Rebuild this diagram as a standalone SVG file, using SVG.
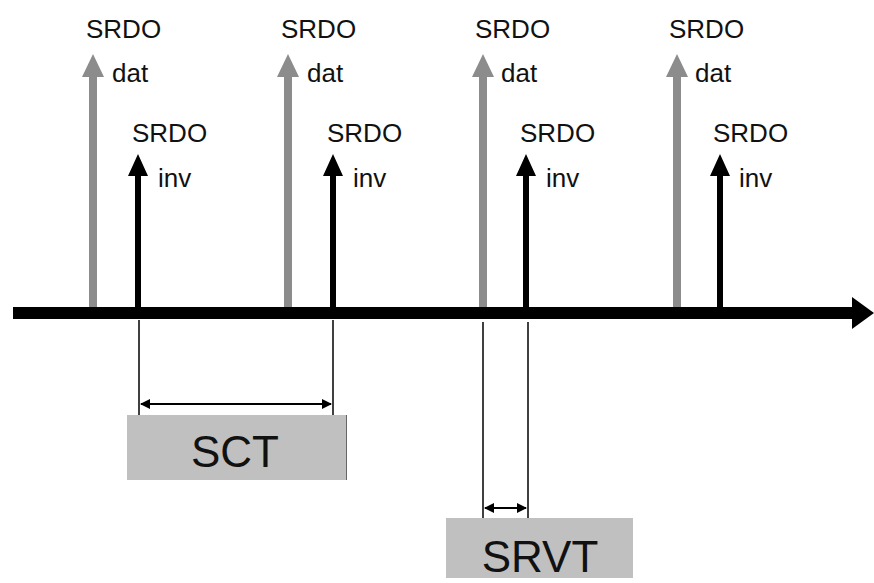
<svg xmlns="http://www.w3.org/2000/svg" width="874" height="583" viewBox="0 0 874 583">
<style>
.lbl{font-family:"Liberation Sans",Arial,sans-serif;font-size:26px;fill:#111}
.big{font-family:"Liberation Sans",Arial,sans-serif;font-size:44px;fill:#111;text-anchor:middle}
.dat{fill:#8c8c8c}
.inv{fill:#000}
.ext{stroke:#000;stroke-width:1.5;fill:none}
.dim{stroke:#000;stroke-width:2;fill:none;marker-start:url(#ah);marker-end:url(#ah)}
.box{fill:#c0c0c0}
</style>
<defs>
<marker id="ah" viewBox="0 0 10 10" refX="9" refY="5" markerWidth="5" markerHeight="5" orient="auto-start-reverse" markerUnits="strokeWidth">
<path d="M0,0 L10,5 L0,10 Z" fill="#000"/>
</marker>
<path id="gdat" d="M-4,307 L-4,77 L-11,77 L0,54 L11,77 L4,77 L4,307 Z"/>
<path id="ginv" d="M-3,307 L-3,176 L-10,176 L0,154 L10,176 L3,176 L3,307 Z"/>
</defs>
<g id="axis">
<rect x="13" y="307" width="842" height="12" fill="#000"/>
<path d="M852,297 L874,313 L852,329 Z" fill="#000"/>
</g>
<g id="srdo1">
<use href="#gdat" x="93" class="dat"/>
<use href="#ginv" x="138" class="inv"/>
<text class="lbl" x="86" y="38">SRDO</text>
<text class="lbl" x="112" y="82">dat</text>
<text class="lbl" x="132" y="142">SRDO</text>
<text class="lbl" x="158" y="187">inv</text>
</g>
<g id="srdo2">
<use href="#gdat" x="288" class="dat"/>
<use href="#ginv" x="333" class="inv"/>
<text class="lbl" x="281" y="38">SRDO</text>
<text class="lbl" x="307" y="82">dat</text>
<text class="lbl" x="327" y="142">SRDO</text>
<text class="lbl" x="353" y="187">inv</text>
</g>
<g id="srdo3">
<use href="#gdat" x="483" class="dat"/>
<use href="#ginv" x="526" class="inv"/>
<text class="lbl" x="475" y="38">SRDO</text>
<text class="lbl" x="501" y="82">dat</text>
<text class="lbl" x="520" y="142">SRDO</text>
<text class="lbl" x="546" y="187">inv</text>
</g>
<g id="srdo4">
<use href="#gdat" x="677" class="dat"/>
<use href="#ginv" x="720" class="inv"/>
<text class="lbl" x="669" y="38">SRDO</text>
<text class="lbl" x="695" y="82">dat</text>
<text class="lbl" x="713" y="142">SRDO</text>
<text class="lbl" x="739" y="187">inv</text>
</g>
<g id="connectors">
<line class="ext" x1="139" y1="320" x2="139" y2="415"/>
<line class="ext" x1="333" y1="320" x2="333" y2="415"/>
<line class="dim" x1="141" y1="404" x2="331" y2="404"/>
<line class="ext" x1="483" y1="322" x2="483" y2="518"/>
<line class="ext" x1="528" y1="322" x2="528" y2="518"/>
<line class="dim" x1="485" y1="508" x2="526" y2="508"/>
</g>
<g id="sct">
<rect class="box" x="127" y="415" width="220" height="65"/>
<line x1="346.5" y1="415" x2="346.5" y2="480" stroke="#666" stroke-width="1"/>
<text class="big" x="235" y="467">SCT</text>
</g>
<g id="srvt">
<rect class="box" x="446" y="518" width="187" height="60"/>
<text class="big" x="540" y="572">SRVT</text>
</g>
</svg>
